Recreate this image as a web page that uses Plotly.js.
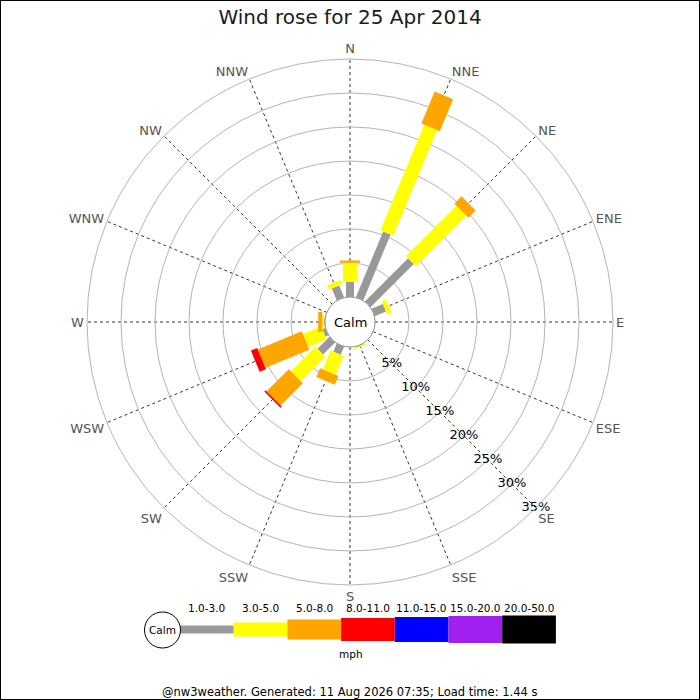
<!DOCTYPE html>
<html>
<head>
<meta charset="utf-8">
<script src="https://cdn.plot.ly/plotly-3.0.1.min.js"></script>
<style>
html,body{margin:0;padding:0;background:#fff;}
#chart{width:700px;height:700px;}
</style>
</head>
<body>
<div id="chart"></div>
<script>
// ---------- DATA ----------
const directions = ['N','NNE','NE','ENE','E','ESE','SE','SSE','S','SSW','SW','WSW','W','WNW','NW','NNW'];
const speedBins = ['1.0-3.0','3.0-5.0','5.0-8.0','8.0-11.0','11.0-15.0','15.0-20.0','20.0-50.0'];
// percentage of time per direction for each speed bin (mph)
const pct_1_3   = [2.25,10.5, 9.0, 1.8, 0, 0, 0, 0.1, 0, 1.3, 2.5, 0.5, 0.1, 0, 0, 1.9];
const pct_3_5   = [2.8, 16.8,10.5, 0.7, 0, 0, 0, 0.2, 0, 3.0, 5.1, 2.9, 0.3, 0, 0, 0.7];
const pct_5_8   = [0.3,  5.1, 1.5, 0,   0, 0, 0, 0,   0, 1.4, 4.6, 7.0, 0.6, 0, 0, 0];
const pct_8_11  = [0,    0,   0,   0,   0, 0, 0, 0,   0, 0,   0.25,1.0, 0,   0, 0, 0];
const pct_11_15 = [0,0,0,0,0,0,0,0,0,0,0,0,0,0,0,0];
const pct_15_20 = [0,0,0,0,0,0,0,0,0,0,0,0,0,0,0,0];
const pct_20_50 = [0,0,0,0,0,0,0,0,0,0,0,0,0,0,0,0];
const radialTicks = [5,10,15,20,25,30,35];
const titleText = 'Wind rose for 25 Apr 2014';
const unitText = 'mph';
const calmText = 'Calm';
const footerText = '@nw3weather. Generated: 11 Aug 2026 07:35; Load time: 1.44 s';

// ---------- STYLE ----------
const binColors = ['#999999','#ffff00','#ffa500','#ff0000','#0000ff','#a020f0','#000000'];
const binWidths = [8, 14, 20, 23, 25, 27, 28];
const FONT = 'DejaVu Sans';
const W = 700, H = 700;
const cx = 350, cy = 322, outerR = 263, calmR = 25;
const px = x => x / W;
const py = y => 1 - y / H;

const series = [pct_1_3, pct_3_5, pct_5_8, pct_8_11, pct_11_15, pct_15_20, pct_20_50];
const angles = directions.map((d, i) => i * 360 / directions.length);

// stacked segments, one trace per speed bin
const traces = [];
const cum = directions.map(() => 0);
series.forEach((vals, b) => {
  const r = [], th = [];
  vals.forEach((v, i) => {
    if (v > 0) {
      r.push(cum[i], cum[i] + v, null);
      th.push(angles[i], angles[i], null);
      cum[i] += v;
    }
  });
  if (r.length) {
    traces.push({
      type: 'scatterpolar', mode: 'lines', r: r, theta: th,
      connectgaps: false, hoverinfo: 'skip',
      line: {color: binColors[b], width: binWidths[b]},
      name: speedBins[b]
    });
  }
});

// radial tick labels along the SE spoke
traces.push({
  type: 'scatterpolar', mode: 'text',
  r: radialTicks, theta: radialTicks.map(() => 135),
  text: radialTicks.map(v => v + '%'),
  textposition: 'middle center',
  textfont: {family: FONT, size: 13, color: '#000'},
  hoverinfo: 'skip', cliponaxis: false
});

// ---------- LEGEND (decoration) ----------
const shapes = [];
const annotations = [];
// frame
shapes.push({type:'rect', xref:'paper', yref:'paper', x0:0, x1:1, y0:0, y1:1,
  line:{color:'#000', width:2}, fillcolor:'rgba(0,0,0,0)'});
// calm circle in center
shapes.push({type:'circle', xref:'paper', yref:'paper', layer:'above',
  x0:px(cx-calmR), x1:px(cx+calmR), y0:py(cy+calmR), y1:py(cy-calmR),
  fillcolor:'#fff', line:{color:'#999', width:1}});
annotations.push({xref:'paper', yref:'paper', x:px(cx), y:py(cy), text:calmText, showarrow:false,
  xanchor:'center', yanchor:'middle', font:{family:FONT, size:13, color:'#000'}});

const legY = 629.5, legX0 = 180, segW = 53.7;
speedBins.forEach((lab, i) => {
  const h = binWidths[i];
  const x0 = legX0 + i * segW, x1 = x0 + segW;
  shapes.push({type:'rect', xref:'paper', yref:'paper',
    x0:px(x0), x1:px(x1), y0:py(legY + h/2), y1:py(legY - h/2),
    fillcolor:binColors[i], line:{width:0}});
  annotations.push({xref:'paper', yref:'paper', x:px((x0+x1)/2), y:py(607.5), text:lab, showarrow:false,
    xanchor:'center', yanchor:'middle', font:{family:FONT, size:10.5, color:'#000'}});
});
shapes.push({type:'circle', xref:'paper', yref:'paper', layer:'above',
  x0:px(162.5-18), x1:px(162.5+18), y0:py(630+18), y1:py(630-18),
  fillcolor:'#fff', line:{color:'#000', width:1}});
annotations.push({xref:'paper', yref:'paper', x:px(162.5), y:py(630), text:calmText, showarrow:false,
  xanchor:'center', yanchor:'middle', font:{family:FONT, size:10.5, color:'#000'}});
annotations.push({xref:'paper', yref:'paper', x:px(351), y:py(654), text:unitText, showarrow:false,
  xanchor:'center', yanchor:'middle', font:{family:FONT, size:10.5, color:'#000'}});
annotations.push({xref:'paper', yref:'paper', x:px(349), y:py(692), text:footerText, showarrow:false,
  xanchor:'center', yanchor:'middle', font:{family:FONT, size:11.5, color:'#000'}});

const layout = {
  width: W, height: H,
  margin: {l:0, r:0, t:0, b:0},
  paper_bgcolor: '#fff',
  showlegend: false,
  title: {text: titleText, x: 0.5, xanchor: 'center', y: py(17), yanchor: 'middle',
    font: {family: FONT, size: 20, color: '#1a1a1a'}},
  polar: {
    domain: {x: [px(cx - outerR), px(cx + outerR)], y: [py(cy + outerR), py(cy - outerR)]},
    hole: calmR / outerR,
    bgcolor: '#fff',
    radialaxis: {
      range: [0, 35], tickmode: 'array', tickvals: radialTicks,
      showticklabels: false, ticks: '', showline: false,
      gridcolor: '#b4b4b4', gridwidth: 1, angle: -45
    },
    angularaxis: {
      rotation: 90, direction: 'clockwise', thetaunit: 'degrees',
      tickmode: 'array', tickvals: angles, ticktext: directions, ticks: '',
      showline: true, linecolor: '#b4b4b4', linewidth: 1,
      gridcolor: '#333', gridwidth: 1, griddash: 'dot',
      tickfont: {family: FONT, size: 13, color: '#555'}
    }
  },
  shapes: shapes,
  annotations: annotations
};

Plotly.newPlot('chart', traces, layout, {staticPlot: true, displayModeBar: false});
</script>
</body>
</html>
